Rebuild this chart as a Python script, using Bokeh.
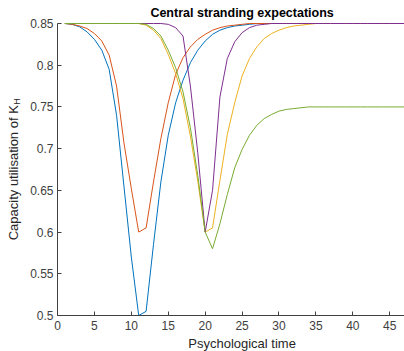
import math
from bokeh.plotting import figure
from bokeh.models import Label, FixedTicker, LinearAxis
from bokeh.embed import file_html
from bokeh.resources import INLINE

# ---------------- data ----------------
time = [1, 2, 3, 4, 5, 6, 7, 8, 9, 10,
        11, 12, 13, 14, 15, 16, 17, 18, 19, 20,
        21, 22, 23, 24, 25, 26, 27, 28, 29, 30,
        31, 32, 33, 34, 35, 36, 37, 38, 39, 40,
        41, 42, 43, 44, 45, 46, 47, 48, 49, 50]

series_blue = [0.850, 0.849, 0.846, 0.840, 0.831, 0.818, 0.795, 0.740, 0.655, 0.570,
               0.500, 0.505, 0.585, 0.660, 0.716, 0.755, 0.782, 0.803, 0.818, 0.829,
               0.837, 0.842, 0.845, 0.847, 0.848, 0.849, 0.850, 0.850, 0.850, 0.850,
               0.850, 0.850, 0.850, 0.850, 0.850, 0.850, 0.850, 0.850, 0.850, 0.850,
               0.850, 0.850, 0.850, 0.850, 0.850, 0.850, 0.850, 0.850, 0.850, 0.850]

series_orange = [0.850, 0.849, 0.847, 0.844, 0.838, 0.829, 0.812, 0.775, 0.707, 0.652,
                 0.600, 0.605, 0.660, 0.712, 0.755, 0.789, 0.809, 0.822, 0.831, 0.837,
                 0.842, 0.845, 0.847, 0.848, 0.849, 0.850, 0.850, 0.850, 0.850, 0.850,
                 0.850, 0.850, 0.850, 0.850, 0.850, 0.850, 0.850, 0.850, 0.850, 0.850,
                 0.850, 0.850, 0.850, 0.850, 0.850, 0.850, 0.850, 0.850, 0.850, 0.850]

series_yellow = [0.850, 0.850, 0.850, 0.850, 0.850, 0.850, 0.850, 0.850, 0.850, 0.850,
                 0.850, 0.848, 0.842, 0.832, 0.813, 0.790, 0.760, 0.715, 0.661, 0.600,
                 0.605, 0.662, 0.717, 0.755, 0.787, 0.808, 0.822, 0.832, 0.838, 0.842,
                 0.845, 0.847, 0.848, 0.849, 0.850, 0.850, 0.850, 0.850, 0.850, 0.850,
                 0.850, 0.850, 0.850, 0.850, 0.850, 0.850, 0.850, 0.850, 0.850, 0.850]

series_purple = [0.850, 0.850, 0.850, 0.850, 0.850, 0.850, 0.850, 0.850, 0.850, 0.850,
                 0.850, 0.850, 0.850, 0.850, 0.849, 0.845, 0.835, 0.775, 0.695, 0.600,
                 0.650, 0.762, 0.808, 0.828, 0.839, 0.845, 0.848, 0.849, 0.850, 0.850,
                 0.850, 0.850, 0.850, 0.850, 0.850, 0.850, 0.850, 0.850, 0.850, 0.850,
                 0.850, 0.850, 0.850, 0.850, 0.850, 0.850, 0.850, 0.850, 0.850, 0.850]

series_green = [0.850, 0.850, 0.850, 0.850, 0.850, 0.850, 0.850, 0.850, 0.850, 0.850,
                0.850, 0.849, 0.844, 0.835, 0.818, 0.797, 0.768, 0.725, 0.668, 0.600,
                0.580, 0.610, 0.645, 0.677, 0.699, 0.716, 0.728, 0.736, 0.741, 0.745,
                0.747, 0.748, 0.749, 0.750, 0.750, 0.750, 0.750, 0.750, 0.750, 0.750,
                0.750, 0.750, 0.750, 0.750, 0.750, 0.750, 0.750, 0.750, 0.750, 0.750]

x_ticks = [0, 5, 10, 15, 20, 25, 30, 35, 40, 45]
y_ticks = [0.5, 0.55, 0.6, 0.65, 0.7, 0.75, 0.8, 0.85]
y_tick_labels = ["0.5", "0.55", "0.6", "0.65", "0.7", "0.75", "0.8", "0.85"]

x_lim = (0, 50)      # axes limits of the original (picture is cropped at ~47)
y_lim = (0.5, 0.85)

title_text = "Central stranding expectations"
x_label_text = "Psychological time"
y_label_text = "Capacity utilisation of K"
y_label_sub = "H"

# ---------------- layout (pixels) ----------------
W, H = 404, 351
AX_LEFT, AX_TOP, AX_BOTTOM = 57, 23, 315       # axes box in the picture
VIS_RIGHT_T = 47                                 # time value at the right edge

px_per_t = (W - AX_LEFT) / (VIS_RIGHT_T - x_lim[0])
px_per_v = (AX_BOTTOM - AX_TOP) / (y_lim[1] - y_lim[0])
xr = (x_lim[0] - AX_LEFT / px_per_t, VIS_RIGHT_T)
yr = (y_lim[0] - (H - AX_BOTTOM) / px_per_v, y_lim[1] + AX_TOP / px_per_v)

FONT = "Liberation Sans"
AX = "#404040"

p = figure(width=W, height=H, x_range=xr, y_range=yr, title=None,
           output_backend="svg", toolbar_location=None,
           x_axis_location=None, y_axis_location=None,
           min_border=0)
p.grid.visible = False
p.outline_line_color = None
p.background_fill_color = "white"
p.border_fill_color = "white"

colors = ["#0072BD", "#D95319", "#EDB120", "#7E2F8E", "#77AC30"]
for ys, c in zip([series_blue, series_orange, series_yellow, series_purple, series_green], colors):
    p.line(time, ys, line_color=c, line_width=1)

xaxis = LinearAxis(fixed_location=y_lim[0], bounds=(x_lim[0], VIS_RIGHT_T + 1),
                   ticker=FixedTicker(ticks=x_ticks))
yaxis = LinearAxis(fixed_location=x_lim[0], bounds=y_lim,
                   ticker=FixedTicker(ticks=y_ticks))
yaxis.major_label_overrides = {v: s for v, s in zip(y_ticks, y_tick_labels)}
for ax in (xaxis, yaxis):
    ax.axis_line_color = AX
    ax.axis_line_width = 1
    ax.major_tick_line_color = AX
    ax.major_tick_in = 4
    ax.major_tick_out = 0
    ax.minor_tick_line_color = None
    ax.major_label_text_font = FONT
    ax.major_label_text_font_size = "12px"
    ax.major_label_text_color = AX
yaxis.major_label_standoff = 4
xaxis.major_label_standoff = 5
p.add_layout(xaxis, "below")
p.add_layout(yaxis, "left")

mid_x = (x_lim[0] + x_lim[1]) / 2
p.add_layout(Label(x=mid_x, y=H - 12.2, x_units="data", y_units="screen",
                   text=title_text, text_font=FONT, text_font_size="12.5px",
                   text_font_style="bold", text_color="black",
                   text_align="center", text_baseline="alphabetic"))
p.add_layout(Label(x=mid_x, y=H - 342.5, x_units="data", y_units="screen",
                   text=x_label_text, text_font=FONT, text_font_size="13px",
                   text_color="#262626", text_align="center", text_baseline="alphabetic"))
ylab_start = H - 239.8
p.add_layout(Label(x=12.5, y=ylab_start, x_units="screen", y_units="screen",
                   angle=math.pi / 2, text=y_label_text, text_font=FONT,
                   text_font_size="13px", text_color="#262626",
                   text_align="left", text_baseline="alphabetic"))
p.add_layout(Label(x=16.5, y=ylab_start + 135.6, x_units="screen", y_units="screen",
                   angle=math.pi / 2, text=y_label_sub, text_font=FONT,
                   text_font_size="9px", text_color="#262626",
                   text_align="left", text_baseline="alphabetic"))

open("out.html", "w").write(file_html(p, INLINE))
